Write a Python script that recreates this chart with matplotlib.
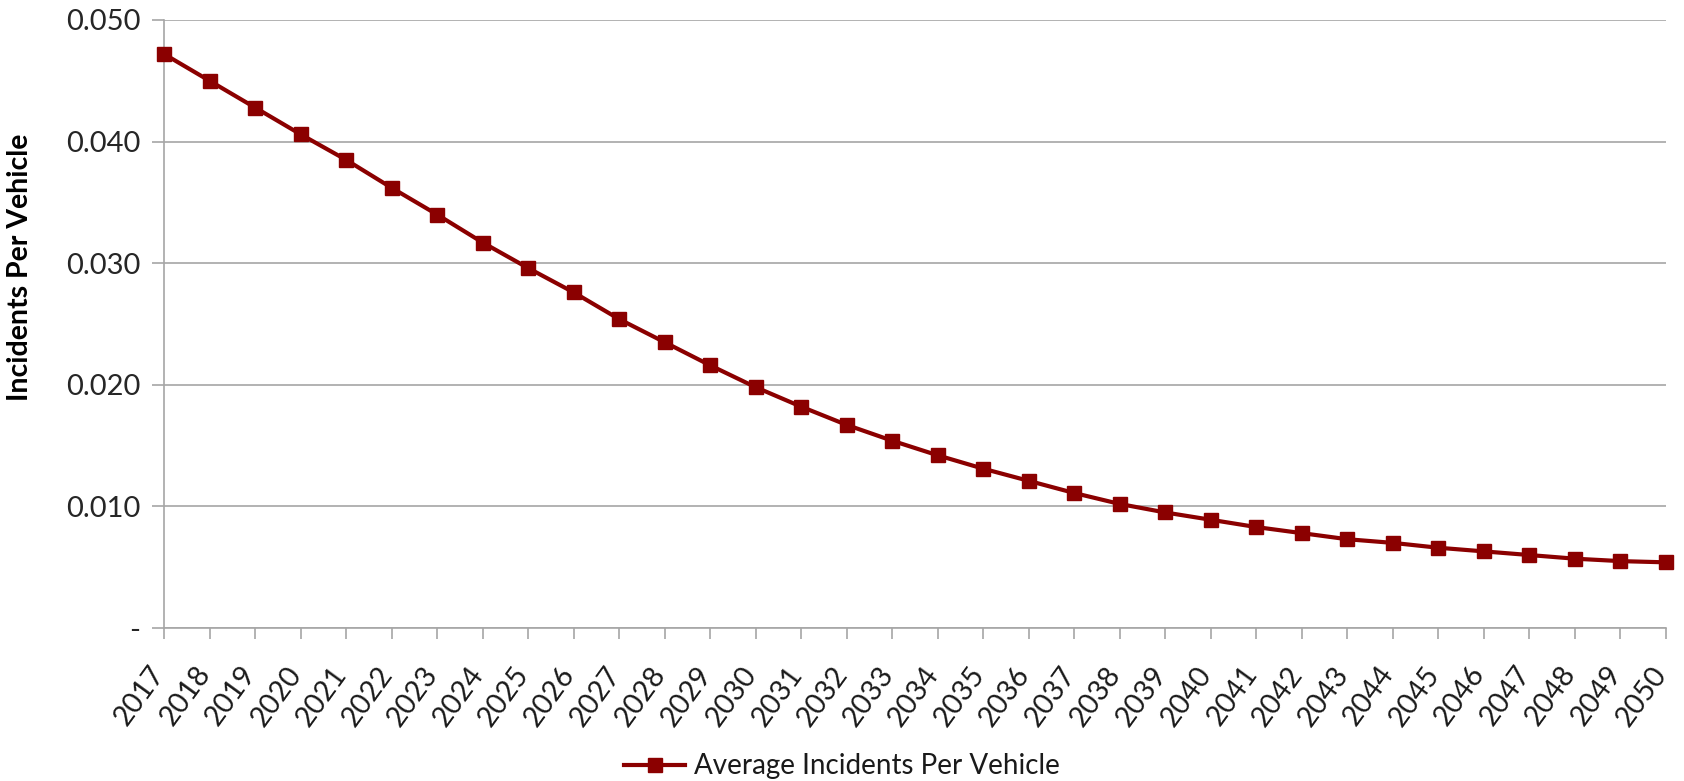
import matplotlib
matplotlib.use("Agg")
import matplotlib.pyplot as plt
import matplotlib.transforms as mtransforms
from matplotlib.ticker import FuncFormatter

plt.rcParams['font.family'] = ['Lato', 'DejaVu Sans']

years = list(range(2017, 2051))
incidents = [0.0472, 0.0450, 0.0428, 0.0406, 0.0385, 0.0362, 0.0340, 0.0317,
             0.0296, 0.0276, 0.0254, 0.0235, 0.0216, 0.0198, 0.0182, 0.0167,
             0.0154, 0.0142, 0.0131, 0.0121, 0.0111, 0.0102, 0.0095, 0.0089,
             0.0083, 0.0078, 0.0073, 0.0070, 0.0066, 0.0063, 0.0060, 0.0057,
             0.0055, 0.0054]
y_ticks = [0, 0.01, 0.02, 0.03, 0.04, 0.05]
series_name = "Average Incidents Per Vehicle"

grey = "#a6a6a6"
red = "#8b0000"

fig = plt.figure(figsize=(16.84, 7.81), dpi=100)
ax = fig.add_axes([0.0974, 0.1959, 0.8919, 0.7785])

ax.plot(years, incidents, color=red, lw=3, marker='s', markersize=10.5,
        label=series_name, clip_on=False, zorder=3)

ax.set_xlim(years[0], years[-1])
ax.set_ylim(0, 0.05)
ax.set_yticks(y_ticks)
ax.yaxis.set_major_formatter(FuncFormatter(lambda v, p: "-" if v == 0 else f"{v:.3f}"))
ax.set_xticks(years)
ax.set_xticklabels([str(y) for y in years], rotation=54, ha='right',
                   va='baseline', rotation_mode='anchor')

ax.grid(axis='y', color=grey, lw=1.2)
ax.set_axisbelow(True)
for s in ['top', 'right']:
    ax.spines[s].set_visible(False)
for s in ['left', 'bottom']:
    ax.spines[s].set_color(grey)
    ax.spines[s].set_linewidth(1.2)

ax.tick_params(axis='y', colors=grey, length=9, width=1.2, labelsize=21,
               labelcolor='#262626', pad=8)
ax.tick_params(axis='x', colors=grey, length=8, width=1.2, labelsize=20.5,
               labelcolor='#1a1a1a', pad=25)
# shift year labels a touch right so their ends sit under each tick
offset = mtransforms.ScaledTranslation(2 / 100, 0, fig.dpi_scale_trans)
for lbl in ax.get_xticklabels():
    lbl.set_transform(lbl.get_transform() + offset)
ax.margins(0)

ax.set_ylabel("Incidents Per Vehicle", fontsize=20.5, fontweight='bold',
              color='black')
ax.yaxis.set_label_coords(-0.0872, 0.594)

fig.legend(loc='lower center', bbox_to_anchor=(0.5, -0.03), frameon=False,
           fontsize=20, handlelength=2.2, handletextpad=0.3,
           labelcolor='#1a1a1a')

fig.savefig("out.png", dpi=100)
